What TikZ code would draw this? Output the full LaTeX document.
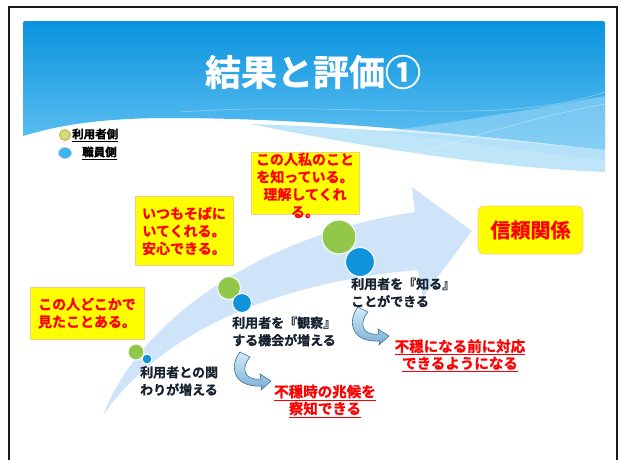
\documentclass[tikz,border=0pt]{standalone}
\usepackage{fontspec}
\usetikzlibrary{shapes.geometric}
\newfontfamily\jp{Noto Sans CJK JP}[BoldFont={* Bold}, BoldFeatures={FakeBold=1.2}]
\definecolor{hdrtop}{HTML}{0A93DE}
\definecolor{hdrbot}{HTML}{62C2F2}
\definecolor{bandbl}{HTML}{A9DCF7}
\definecolor{arrowbl}{HTML}{CFE4F9}
\definecolor{grn}{HTML}{92C84A}
\definecolor{blu}{HTML}{0E92DA}
\definecolor{ybox}{HTML}{FFFF00}
\definecolor{yedge}{HTML}{F3CB8C}
\definecolor{navy}{HTML}{16222F}
\definecolor{lgrn}{HTML}{C9DF7D}
\definecolor{lgold}{HTML}{DDA63C}
\definecolor{lblu}{HTML}{3DB5F5}
\definecolor{uarrowA}{HTML}{D3EBF9}
\definecolor{uarrowB}{HTML}{79AFD5}
\definecolor{uedge}{HTML}{3D6F95}
\tikzset{
  ybx/.style={fill=ybox, draw=yedge, line width=0.7pt, inner sep=0pt},
  ytext/.style={text=red, font=\jp\bfseries\fontsize{14}{17.5}\selectfont, align=center, inner sep=0pt},
  navytext/.style={text=navy, font=\jp\bfseries\fontsize{13}{17.5}\selectfont, align=left, inner sep=0pt},
  redul/.style={text=red, font=\jp\bfseries\fontsize{14.5}{17}\selectfont, align=center, inner sep=0pt},
  legtext/.style={text=black, font=\jp\bfseries\fontsize{11.5}{13}\selectfont, inner sep=0pt, anchor=west},
  gdot/.style={circle, fill=grn, draw=white, line width=1pt, inner sep=0pt},
  bdot/.style={circle, fill=blu, draw=white, line width=1pt, inner sep=0pt},
  uarrow/.style={top color=uarrowA, bottom color=uarrowB, draw=uedge, line width=0.6pt},
}
\begin{document}
\begin{tikzpicture}[x=1pt,y=-1pt]
\useasboundingbox (0,0) rectangle (619,459);
\clip (0,0) rectangle (619,459);
% header
\shade[top color=hdrtop, bottom color=hdrbot]
  (23,136) -- (23,26) .. controls (23,21) .. (28,21) -- (600,21) .. controls (605,21) .. (605,26)
  -- (605,150) .. controls (480,136) and (320,118) .. (170,118)
  .. controls (90,118) and (50,128) .. (23,136) -- cycle;
\fill[bandbl, opacity=0.75] (250,124) .. controls (380,128) and (500,140) .. (605,150)
  -- (605,172) .. controls (500,168) and (380,150) .. (250,124) -- cycle;
\fill[bandbl, opacity=0.5] (380,132) .. controls (470,120) and (540,108) .. (605,96)
  -- (605,160) .. controls (520,150) and (450,140) .. (380,132) -- cycle;
\draw[white, opacity=0.45, line width=0.5pt] (180,112) .. controls (350,100) and (500,128) .. (605,92);
\draw[white, opacity=0.45, line width=0.5pt] (390,162) .. controls (460,140) and (530,118) .. (605,104);
% frame
\draw[line width=2pt, black!90] (9,470) -- (9,7) -- (617,7) -- (617,470);
% title
\node[text=white, font=\jp\bfseries\fontsize{36}{40}\selectfont, inner sep=0pt] (title) at (313,72) {結果と評価①};
% legend
\node[circle, fill=lgrn, draw=lgold, line width=0.9pt, minimum size=11pt, inner sep=0pt] (lg1) at (65,135) {};
\node[legtext] (lt1) at (72,135) {\underline{利用者側}};
\node[ellipse, fill=lblu, draw=black!20, line width=0.5pt, minimum width=13pt, minimum height=11pt, inner sep=0pt] (lg2) at (65,153) {};
\node[legtext] (lt2) at (82,153) {\underline{職員側}};
% big arrow
\fill[arrowbl] (103,415) .. controls (140,320) and (260,235) .. (415,212)
  -- (412,187) -- (472,231) -- (423,297) -- (418,270)
  .. controls (300,280) and (170,320) .. (103,415) -- cycle;
% dots
\node[gdot, minimum size=16pt] (g1) at (136,352) {};
\node[bdot, minimum size=10pt] (b1) at (147,359) {};
\node[gdot, minimum size=23pt] (g2) at (229,288) {};
\node[bdot, minimum size=19pt] (b2) at (242,303) {};
\node[gdot, minimum size=34pt] (g3) at (339,237) {};
\node[bdot, minimum size=29pt] (b3) at (360,262) {};
% yellow boxes
\node[ybx, minimum width=114pt, minimum height=52pt, ytext] (box1) at (87,313) {この人どこかで\\見たことある。};
\node[ybx, minimum width=98pt, minimum height=69pt, ytext] (box2) at (184,231) {いつもそばに\\いてくれる。\\安心できる。};
\node[ybx, minimum width=108pt, minimum height=62pt] (box3) at (305,183) {};
\node[ytext] (box3t) at (305,185.5) {この人私のこと\\を知っている。\\理解してくれ\\る。};
\node[ybx, rounded corners=6pt, minimum width=105pt, minimum height=48pt, text=red, font=\jp\bfseries\fontsize{20}{22}\selectfont] (trust) at (530.5,230) {信頼関係};
% navy captions
\node[navytext, anchor=west] (c1) at (140,381) {利用者との関\\わりが増える};
\node[navytext, anchor=west] (c2) at (232,331.5) {利用者を『観察』\\する機会が増える};
\node[navytext, anchor=west] (c3) at (351,292.5) {利用者を『知る』\\ことができる};
% U-turn arrows
\path[uarrow] (240,352) .. controls (229,366) and (233,388) .. (262,386)
  -- (261,390) -- (271,381) -- (260,374) -- (261,379)
  .. controls (243,381) and (241,367) .. (250,357) -- cycle;
\begin{scope}[shift={(118,-45)}]
\path[uarrow] (240,352) .. controls (229,366) and (233,388) .. (262,386)
  -- (261,390) -- (271,381) -- (260,374) -- (261,379)
  .. controls (243,381) and (241,367) .. (250,357) -- cycle;
\end{scope}
% red results
\node[redul] (r1) at (325,401) {\underline{不穏時の兆候を}\\\underline{察知できる}};
\node[redul] (r2) at (460,355.5) {\underline{不穏になる前に対応}\\\underline{できるようになる}};
\end{tikzpicture}
\end{document}
